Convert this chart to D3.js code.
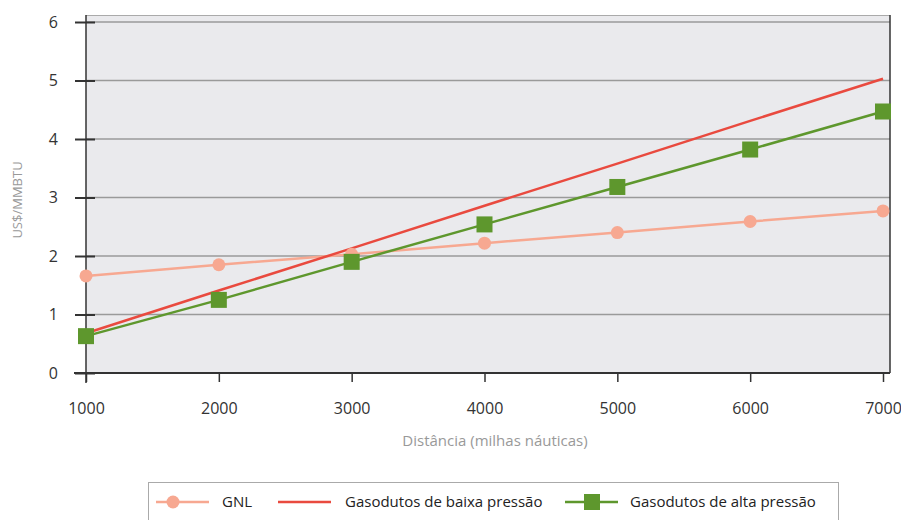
<!DOCTYPE html>
<html>
<head>
<meta charset="utf-8">
<script src="https://cdn.jsdelivr.net/npm/d3@7"></script>
<style>
  body { margin: 0; background: #fff; }
  text { font-family: "Open Sans", "Noto Sans", sans-serif; }
</style>
</head>
<body>
<div class="canvas"></div>
<script>
const distances = [1000, 2000, 3000, 4000, 5000, 6000, 7000];
const gnl = [1.66, 1.85, 2.03, 2.22, 2.40, 2.59, 2.77];
const baixa = [0.68, 1.41, 2.13, 2.86, 3.58, 4.31, 5.03];
const alta = [0.63, 1.25, 1.90, 2.54, 3.18, 3.82, 4.47];
const yTicks = [0, 1, 2, 3, 4, 5, 6];
const seriesNames = ['GNL', 'Gasodutos de baixa pressão', 'Gasodutos de alta pressão'];

const dims = { width: 901, height: 520 };
const plot = { left: 86, right: 890, top: 15, bottom: 373 };

const svg = d3.select('.canvas')
  .append('svg')
    .attr('width', dims.width)
    .attr('height', dims.height)

const x = d3.scaleLinear()
  .domain([1000, 7000])
  .range([86, 883])

const y = d3.scaleLinear()
  .domain([0, 6])
  .range([373, 22])

// plot background
svg.append('rect')
  .attr('x', plot.left)
  .attr('y', plot.top)
  .attr('width', plot.right - plot.left)
  .attr('height', plot.bottom - plot.top)
  .attr('fill', '#eaeaed')
svg.append('line')
  .attr('x1', plot.left).attr('x2', plot.right)
  .attr('y1', plot.top + 0.5).attr('y2', plot.top + 0.5)
  .attr('stroke', '#aaa')

// gridlines
svg.selectAll('.grid')
  .data(yTicks.filter(d => d > 0))
  .enter()
  .append('line')
    .attr('x1', plot.left).attr('x2', plot.right)
    .attr('y1', d => y(d)).attr('y2', d => y(d))
    .attr('stroke', '#9a9a9a')
    .attr('stroke-width', 1.5)

// y axis
const yAxis = d3.axisLeft(y)
  .tickValues(yTicks)
  .tickFormat(d3.format('d'))
  .tickSize(0)
  .tickPadding(0)
const yG = svg.append('g')
  .attr('transform', `translate(${plot.left}, 0)`)
  .call(yAxis)
yG.select('.domain').remove()
yG.selectAll('text')
  .attr('x', -28)
  .attr('font-size', 16)
  .attr('fill', '#333')
yG.selectAll('.tick').append('line')
  .attr('x1', -11).attr('x2', 9)
  .attr('stroke', '#333')
  .attr('stroke-width', 2)

// axis frame lines
svg.append('line')
  .attr('x1', plot.left).attr('x2', plot.left)
  .attr('y1', plot.top).attr('y2', plot.bottom + 10)
  .attr('stroke', '#333').attr('stroke-width', 1.5)
svg.append('line')
  .attr('x1', plot.right).attr('x2', plot.right)
  .attr('y1', plot.top).attr('y2', plot.bottom)
  .attr('stroke', '#333').attr('stroke-width', 1.5)

// x axis
const xAxis = d3.axisBottom(x)
  .tickValues(distances)
  .tickFormat(d3.format('d'))
  .tickSize(9)
  .tickPadding(21)
const xG = svg.append('g')
  .attr('transform', `translate(0, ${plot.bottom})`)
  .call(xAxis)
xG.select('.domain').remove()
xG.selectAll('.tick line')
  .attr('stroke', '#333')
  .attr('stroke-width', 1.5)
xG.selectAll('text')
  .attr('font-size', 16)
  .attr('fill', '#333')
svg.append('line')
  .attr('x1', plot.left - 12).attr('x2', plot.right)
  .attr('y1', plot.bottom).attr('y2', plot.bottom)
  .attr('stroke', '#333').attr('stroke-width', 2)

// axis titles
svg.append('text')
  .attr('transform', `translate(22, ${(plot.top + plot.bottom) / 2 + 6}) rotate(-90)`)
  .attr('text-anchor', 'middle')
  .attr('font-size', 13)
  .attr('fill', '#999')
  .text('US$/MMBTU')
svg.append('text')
  .attr('x', 495)
  .attr('y', 446)
  .attr('text-anchor', 'middle')
  .attr('font-size', 15)
  .attr('fill', '#999')
  .text('Distância (milhas náuticas)')

const colors = ['#f7a891', '#e94a3f', '#5e972d'];

const line = d3.line()
  .x((d, i) => x(distances[i]))
  .y(d => y(d))

const graph = svg.append('g')

graph.append('path')
  .attr('d', line(gnl))
  .attr('fill', 'none')
  .attr('stroke', colors[0])
  .attr('stroke-width', 2.5)
graph.append('path')
  .attr('d', line(baixa))
  .attr('fill', 'none')
  .attr('stroke', colors[1])
  .attr('stroke-width', 2.5)
graph.append('path')
  .attr('d', line(alta))
  .attr('fill', 'none')
  .attr('stroke', colors[2])
  .attr('stroke-width', 2.5)

graph.selectAll('.gnlDot')
  .data(gnl)
  .enter()
  .append('circle')
    .attr('cx', (d, i) => x(distances[i]))
    .attr('cy', d => y(d))
    .attr('r', 6.5)
    .attr('fill', colors[0])

graph.selectAll('.altaSq')
  .data(alta)
  .enter()
  .append('rect')
    .attr('x', (d, i) => x(distances[i]) - 8)
    .attr('y', d => y(d) - 8)
    .attr('width', 16)
    .attr('height', 16)
    .attr('fill', colors[2])

// legend
const legendGroup = svg.append('g')
legendGroup.append('rect')
  .attr('x', 148.5).attr('y', 482.5)
  .attr('width', 690).attr('height', 50)
  .attr('fill', '#fff')
  .attr('stroke', '#aaa')

const legendItems = [
  { x: 156, text: 222 },
  { x: 278, text: 345 },
  { x: 565, text: 630 }
];
legendItems.forEach((item, i) => {
  legendGroup.append('line')
    .attr('x1', item.x).attr('x2', item.x + 53)
    .attr('y1', 502).attr('y2', 502)
    .attr('stroke', colors[i])
    .attr('stroke-width', 2.5)
  if (i == 0) {
    legendGroup.append('circle')
      .attr('cx', item.x + 17).attr('cy', 502).attr('r', 6.5)
      .attr('fill', colors[0])
  }
  if (i == 2) {
    legendGroup.append('rect')
      .attr('x', item.x + 19).attr('y', 494)
      .attr('width', 16).attr('height', 16)
      .attr('fill', colors[2])
  }
  legendGroup.append('text')
    .attr('x', item.text)
    .attr('y', 507)
    .attr('font-size', 15)
    .attr('fill', '#222')
    .text(seriesNames[i])
})
</script>
</body>
</html>
